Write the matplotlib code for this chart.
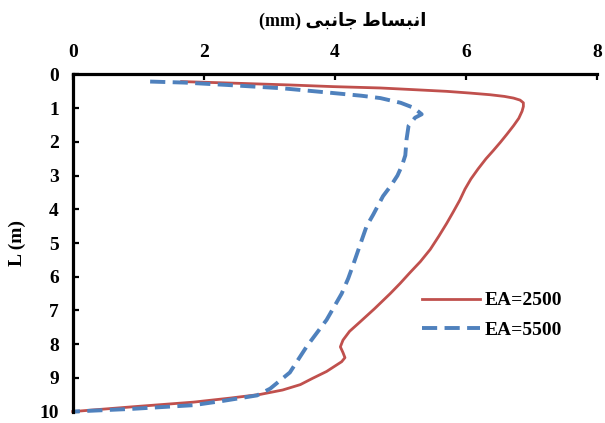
import matplotlib
matplotlib.use("Agg")
import matplotlib.pyplot as plt

# depth L (m) and lateral displacement (mm)
L_2500 = [0.21, 0.26, 0.31, 0.36, 0.40, 0.45, 0.50, 0.55, 0.60, 0.65, 0.70, 0.76,
          0.84, 0.95, 1.09, 1.30, 1.52, 1.77, 2.01, 2.26, 2.50, 2.80, 3.10, 3.40,
          3.73, 4.08, 4.42, 4.80, 5.19, 5.55, 5.88, 6.20, 6.50, 6.95, 7.34, 7.62,
          7.88, 8.08, 8.25, 8.40, 8.52, 8.81, 9.02, 9.20, 9.36, 9.49, 9.60, 9.72,
          9.86, 10.0]
x_2500 = [1.66, 2.50, 3.30, 3.97, 4.69, 5.20, 5.70, 6.05, 6.36, 6.58, 6.72, 6.82,
          6.87, 6.87, 6.85, 6.80, 6.72, 6.62, 6.52, 6.41, 6.30, 6.18, 6.07, 5.98,
          5.90, 5.80, 5.70, 5.58, 5.45, 5.30, 5.14, 4.99, 4.84, 4.60, 4.38, 4.22,
          4.12, 4.08, 4.12, 4.15, 4.10, 3.87, 3.65, 3.47, 3.20, 2.86, 2.40, 1.84,
          0.90, 0.0]

L_5500 = [0.21, 0.24, 0.31, 0.41, 0.55, 0.63, 0.70, 0.84, 0.99, 1.18, 1.28, 1.52,
          1.91, 2.40, 2.70, 3.00, 3.30, 3.61, 4.16, 4.50, 4.89, 5.62, 6.05, 6.50,
          7.28, 8.06, 8.84, 9.32, 9.52, 9.68, 9.81, 9.92, 10.0]
x_5500 = [1.18, 1.70, 2.35, 3.20, 3.97, 4.40, 4.69, 5.00, 5.20, 5.32, 5.22, 5.12,
          5.09, 5.07, 5.02, 4.95, 4.85, 4.73, 4.58, 4.48, 4.41, 4.28, 4.20, 4.10,
          3.87, 3.57, 3.31, 3.01, 2.81, 2.30, 1.84, 0.90, 0.0]

labels = ["EA=2500", "EA=5500"]
x_ticks = [0, 2, 4, 6, 8]
y_ticks = list(range(0, 11))

# Persian title "انبساط جانبی (mm)" in presentation forms, visual order
title = "(mm) \ufbfd\ufe92\ufee7\ufe8e\ufe9f \ufec1\ufe8e\ufeb4\ufe92\ufee7\ufe8d"

plt.rcParams["font.family"] = ["Liberation Serif", "DejaVu Sans"]
plt.rcParams["font.weight"] = "bold"

fig = plt.figure(figsize=(6.05, 4.23), dpi=100)
ax = fig.add_axes([0.1202, 0.027, 0.8674, 0.7969])

ax.plot(x_2500, L_2500, color="#C0504D", lw=2.0, label=labels[0], clip_on=False)
ax.plot(x_5500, L_5500, color="#4F81BD", lw=2.8, dashes=(3.9, 1.9),
        label=labels[1], clip_on=False)

ax.set_xlim(0, 8)
ax.set_ylim(10, 0)
ax.set_xticks(x_ticks)
ax.set_yticks(y_ticks)
ax.xaxis.tick_top()
ax.xaxis.set_label_position("top")
for s in ["right", "bottom"]:
    ax.spines[s].set_visible(False)
for s in ["top", "left"]:
    ax.spines[s].set_linewidth(2.3)
ax.tick_params(direction="in", length=4, width=1.6, labelsize=14, pad=10)

ax.set_xlabel(title, fontsize=13, fontweight="bold", va="center")
ax.xaxis.set_label_coords(0.515, 1.158)
ax.set_ylabel("L (m)", fontsize=14, fontweight="bold", va="center")
ax.yaxis.set_label_coords(-0.105, 0.5)

ax.legend(loc="center left", bbox_to_anchor=(0.665, 0.285), frameon=False,
          fontsize=14, handlelength=3.0, labelspacing=0.63, borderpad=0,
          borderaxespad=0, handletextpad=0.26)

fig.savefig("out.png", dpi=100)
